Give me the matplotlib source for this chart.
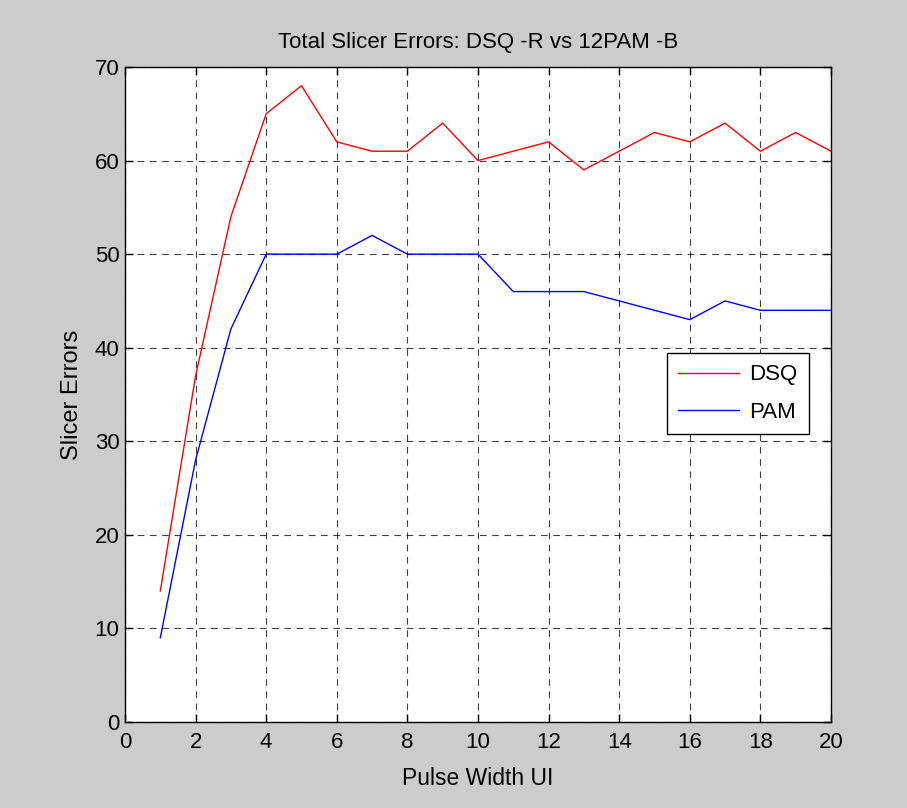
import matplotlib
matplotlib.use("Agg")
import matplotlib.pyplot as plt
import numpy as np

# pulse width (UI) and total slicer errors per modulation
pulse_width = np.arange(1, 21)
dsq_errors = [14, 37, 54, 65, 68, 62, 61, 61, 64, 60,
              61, 62, 59, 61, 63, 62, 64, 61, 63, 61]
pam_errors = [9, 28, 42, 50, 50, 50, 52, 50, 50, 50,
              46, 46, 46, 45, 44, 43, 45, 44, 44, 44]

x_ticks = list(range(0, 21, 2))
y_ticks = list(range(0, 71, 10))

plt.rcParams['font.family'] = ['Liberation Sans', 'DejaVu Sans']

fig = plt.figure(figsize=(9.07, 8.08), dpi=100, facecolor='#cccccc')
ax = fig.add_axes([0.1378, 0.1064, 0.7784, 0.8107])
ax.set_facecolor('white')

ax.plot(pulse_width, dsq_errors, color='#ff0000', linewidth=1.0, label='DSQ')
ax.plot(pulse_width, pam_errors, color='#0000ff', linewidth=1.0, label='PAM')

ax.set_xlim(0, 20)
ax.set_ylim(0, 70)
ax.set_xticks(x_ticks)
ax.set_yticks(y_ticks)
ax.tick_params(direction='in', length=6, width=1.0, top=True, right=True,
               labelsize=16)
ax.tick_params(axis='x', pad=7)
ax.tick_params(axis='y', pad=4)
for side in ax.spines.values():
    side.set_linewidth(1.0)

# matlab style dashed grid
ax.grid(True, color='black', linestyle=(0, (6, 5)), linewidth=0.8, alpha=0.75)
ax.set_axisbelow(True)

ax.set_title('Total Slicer Errors: DSQ -R vs 12PAM -B', fontsize=16, pad=14)
ax.set_xlabel('Pulse Width UI', fontsize=16.5, labelpad=10)
ax.set_ylabel('Slicer Errors', fontsize=17, labelpad=8)

leg = ax.legend(loc='upper left', bbox_to_anchor=(0.768, 0.563), fontsize=16,
                fancybox=False, edgecolor='black', framealpha=1.0,
                borderaxespad=0, handlelength=2.75, handletextpad=0.45,
                borderpad=0.5, labelspacing=0.75)
leg.get_frame().set_linewidth(1.0)

fig.savefig('out.png', dpi=100, facecolor=fig.get_facecolor())
